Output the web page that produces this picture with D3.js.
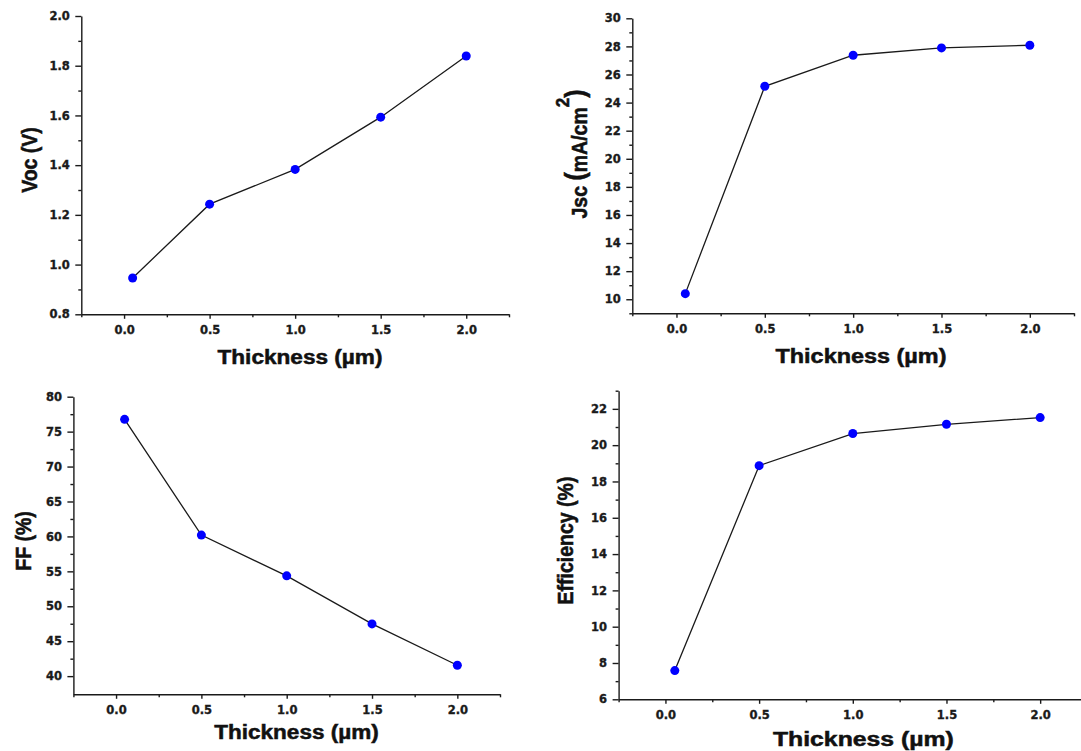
<!DOCTYPE html>
<html>
<head>
<meta charset="utf-8">
<script src="https://cdn.jsdelivr.net/npm/d3@7"></script>
<style>
  body { margin: 0; background: #fff; }
  svg { display: block; }
  .tick line, .domain { stroke: #1a1a1a; stroke-width: 1.4; }
  .title { font-family: "Liberation Sans", Arial, sans-serif; font-weight: bold; fill: #111; stroke: #111; stroke-width: 0.5; }
</style>
</head>
<body>
<svg id="chart" width="1081" height="751"></svg>
<script>
// thickness of the absorber (µm)
const thickness = [0.05, 0.5, 1.0, 1.5, 2.0];

// device parameters
const voc = [0.946, 1.243, 1.383, 1.593, 1.839];
const jsc = [10.4, 25.16, 27.37, 27.89, 28.08];
const ff = [76.76, 60.19, 54.36, 47.48, 41.56];
const eff = [7.58, 18.87, 20.64, 21.15, 21.52];

// tick labels
const xTicks = [0, 0.5, 1.0, 1.5, 2.0];
const xMinor = [-0.25, 0.25, 0.75, 1.25, 1.75, 2.25];
const vocTicks = [0.8, 1.0, 1.2, 1.4, 1.6, 1.8, 2.0];
const vocMinor = [0.9, 1.1, 1.3, 1.5, 1.7, 1.9];
const jscTicks = [10, 12, 14, 16, 18, 20, 22, 24, 26, 28, 30];
const jscMinor = [9, 11, 13, 15, 17, 19, 21, 23, 25, 27, 29];
const ffTicks = [40, 45, 50, 55, 60, 65, 70, 75, 80];
const ffMinor = [42.5, 47.5, 52.5, 57.5, 62.5, 67.5, 72.5, 77.5];
const effTicks = [6, 8, 10, 12, 14, 16, 18, 20, 22];
const effMinor = [7, 9, 11, 13, 15, 17, 19, 21, 23];

const panels = [
  { values: voc, yDomain: [0.8, 2.0], ticks: vocTicks, minor: vocMinor, fmt: '.1f',
    box: [81.3, 509, 16, 314.3], xt: [300, 364, 165], yt: [37, 160], ylabel: 'Voc (V)' },
  { values: jsc, yDomain: [9, 30], ticks: jscTicks, minor: jscMinor, fmt: 'd',
    box: [632.3, 1074, 18.3, 313.3], xt: [861, 362.5, 171], yt: [587, 154], ylabel: 'jsc' },
  { values: ff, yDomain: [37.4, 80], ticks: ffTicks, minor: ffMinor, fmt: 'd',
    box: [73.4, 500, 396.7, 694.3], xt: [296.5, 739, 164.6], yt: [31, 541], ylabel: 'FF (%)' },
  { values: eff, yDomain: [6, 23], ticks: effTicks, minor: effMinor, fmt: 'd',
    box: [618.6, 1087, 390.7, 699.3], xt: [863.4, 746, 181], yt: [573, 540.5], ylabel: 'Efficiency (%)' },
];

const svg = d3.select('#chart');

function styleTicks(a) {
  a.selectAll('.tick text')
    .style('font-family', '"DejaVu Sans", sans-serif')
    .style('font-weight', 'bold')
    .style('font-size', '11.5px')
    .style('fill', '#1a1a1a')
    .style('stroke', '#1a1a1a')
    .style('stroke-width', '0.35px');
}

panels.forEach(p => {
  const [x0, x1, y0, y1] = p.box;
  const x = d3.scaleLinear().domain([-0.25, 2.25]).range([x0, x1]);
  const y = d3.scaleLinear().domain(p.yDomain).range([y1, y0]);
  const g = svg.append('g');

  // minor ticks first, then the main axes on top
  g.append('g')
    .attr('transform', `translate(0,${y1})`)
    .call(d3.axisBottom(x).tickValues(xMinor).tickSize(3).tickFormat(''))
    .call(a => a.select('.domain').remove());
  g.append('g')
    .attr('transform', `translate(${x0},0)`)
    .call(d3.axisLeft(y).tickValues(p.minor).tickSize(3).tickFormat(''))
    .call(a => a.select('.domain').remove());

  g.append('g')
    .attr('transform', `translate(0,${y1})`)
    .call(d3.axisBottom(x).tickValues(xTicks).tickSizeInner(4.5).tickSizeOuter(0)
      .tickPadding(7.5).tickFormat(d3.format('.1f')))
    .call(styleTicks);
  g.append('g')
    .attr('transform', `translate(${x0},0)`)
    .call(d3.axisLeft(y).tickValues(p.ticks).tickSizeInner(6).tickSizeOuter(0)
      .tickPadding(5.5).tickFormat(d3.format(p.fmt)))
    .call(styleTicks);

  const line = d3.line()
    .x((d, i) => x(thickness[i]))
    .y(d => y(d));

  g.append('path')
    .datum(p.values)
    .attr('fill', 'none')
    .attr('stroke', '#1a1a1a')
    .attr('stroke-width', 1.3)
    .attr('d', line);

  g.selectAll('circle')
    .data(p.values)
    .join('circle')
    .attr('cx', (d, i) => x(thickness[i]))
    .attr('cy', d => y(d))
    .attr('r', 4.5)
    .attr('fill', '#0000ff');

  // x title
  g.append('text')
    .attr('class', 'title')
    .attr('x', p.xt[0] - p.xt[2] / 2)
    .attr('y', p.xt[1])
    .attr('font-size', 20)
    .attr('textLength', p.xt[2])
    .attr('lengthAdjust', 'spacingAndGlyphs')
    .text('Thickness (µm)');

  // y title
  const yt = g.append('text')
    .attr('class', 'title')
    .attr('text-anchor', 'middle')
    .attr('font-size', 19.5)
    .attr('transform', `translate(${p.yt[0]},${p.yt[1]}) scale(1.12,1) rotate(-90)`);

  if (p.ylabel === 'jsc') {
    yt.append('tspan').text('Jsc ');
    yt.append('tspan').attr('font-size', 25).attr('dy', -3).text('(');
    yt.append('tspan').attr('dy', 3).text('mA/cm');
    yt.append('tspan').attr('font-size', 17).attr('dy', -16).text('2');
    yt.append('tspan').attr('font-size', 25).attr('dy', 13).text(')');
  } else {
    yt.text(p.ylabel);
  }
});
</script>
</body>
</html>
